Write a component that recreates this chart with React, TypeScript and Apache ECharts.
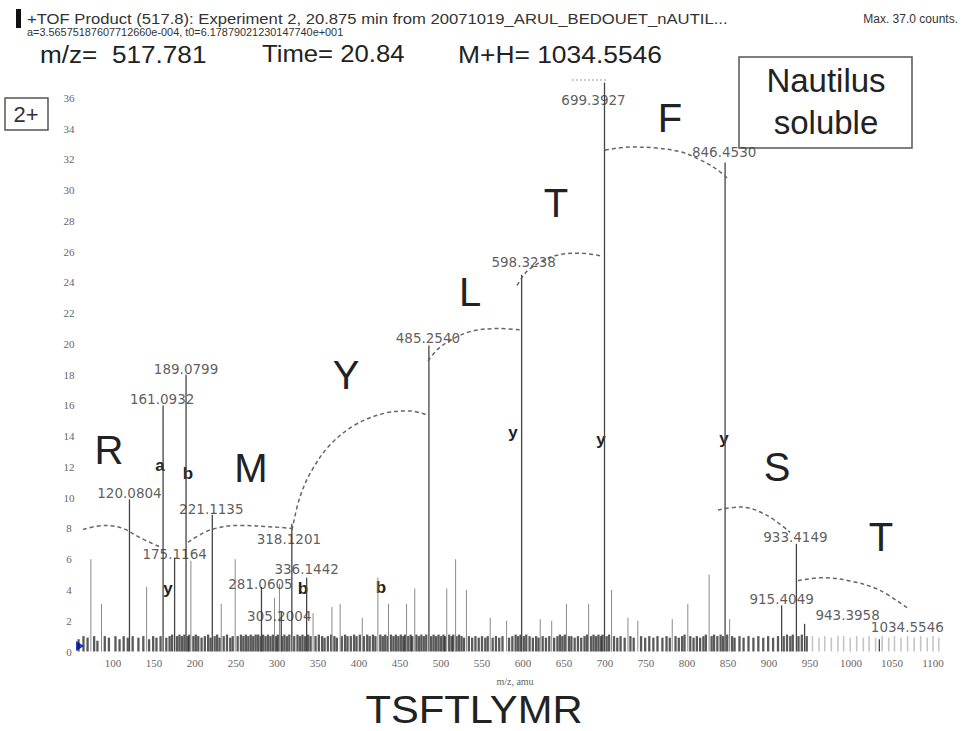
import React, { useEffect, useRef } from "react";
import * as echarts from "echarts";

// Labelled fragment peaks (m/z, intensity in counts)
const labeledMz = [120.0804, 161.0932, 175.1164, 189.0799, 221.1135, 281.0605, 305.2004, 318.1201, 336.1442, 485.254, 598.3238, 699.3927, 846.453, 915.4049, 933.4149, 943.3958, 1034.5546];
const labeledIntensity = [9.9, 16.0, 6.1, 18.0, 8.9, 4.2, 2.6, 8.3, 4.8, 19.9, 24.5, 37.0, 31.8, 3.0, 7.0, 1.8, 0.8];
// label placement relative to the peak top (pixels)
const labelOffsets = [[0, -6], [-1, -6], [0, -4], [0, -6], [-1, -6], [-1, -3], [-2, 4], [-3, 15], [0, -9], [-1, -7], [2, -13], [-11, 18], [-1, -10], [0, -6], [-1, -7], [43, -9], [28, -12]];

// Unlabelled minor peaks [m/z, intensity]
const minorPeaks = [[73, 6.0], [86, 3.1], [141, 4.2], [195, 5.9], [232, 3.1], [249, 6.0], [297, 3.5], [303, 4.4], [344, 2.5], [367, 2.9], [377, 3.1], [404, 2.2], [423, 4.8], [436, 3.1], [458, 3.1], [468, 4.1], [507, 4.1], [517.8, 6.0], [531, 4.0], [560, 2.2], [580, 2.0], [621, 2.1], [635, 2.0], [653, 3.1], [680, 3.1], [708, 4.0], [728, 2.2], [740, 2.0], [782, 2.1], [801, 3.1], [827, 5.0], [852, 2.1]];

// Baseline noise peaks [m/z, intensity]
const noisePeaks = [[58, 0.8], [64, 1.0], [69, 0.9], [77, 1.0], [81, 0.7], [90, 1.0], [95, 0.9], [103, 1.0], [108, 0.8], [113, 1.0], [118, 0.9], [124, 1.0], [131, 0.9], [137, 1.0], [144, 0.8], [149, 1.0], [153, 0.9], [158, 1.0], [165, 0.9], [169, 1.0], [172, 1.1], [178, 1.0], [181, 1.1], [184, 1.0], [187, 1.1], [191, 1.0], [193, 1.1], [198, 1.0], [201, 1.1], [204, 1.0], [208, 0.9], [212, 1.0], [216, 1.1], [219, 0.9], [224, 1.0], [227, 1.1], [230, 0.9], [235, 1.0], [239, 1.1], [243, 0.9], [246, 1.0], [252, 1.0], [256, 1.1], [259, 1.0], [262, 1.1], [265, 1.0], [268, 1.1], [271, 1.0], [274, 1.1], [277, 1.1], [280, 1.0], [283, 1.1], [286, 1.0], [289, 1.1], [292, 1.0], [295, 1.1], [299, 1.0], [301, 1.1], [306, 1.0], [309, 1.1], [312, 1.0], [315, 1.1], [321, 1.0], [325, 1.1], [328, 1.0], [331, 1.1], [334, 1.0], [338, 1.1], [341, 1.0], [347, 1.0], [351, 1.1], [355, 1.0], [358, 0.9], [362, 1.0], [366, 1.1], [370, 1.0], [373, 0.9], [379, 1.0], [383, 1.1], [386, 1.0], [390, 1.0], [394, 1.1], [397, 1.0], [401, 1.1], [406, 1.0], [410, 1.1], [413, 1.0], [417, 1.1], [420, 1.0], [426, 1.1], [429, 1.0], [432, 1.1], [435, 1.0], [439, 1.1], [442, 1.0], [445, 1.1], [448, 1.0], [451, 1.1], [454, 1.0], [456, 1.1], [460, 1.0], [463, 1.1], [465, 1.0], [470, 1.1], [473, 1.0], [476, 1.1], [479, 1.0], [482, 1.1], [488, 1.0], [491, 1.1], [494, 1.0], [497, 1.1], [500, 1.0], [503, 1.1], [505, 1.0], [510, 1.1], [513, 1.0], [515, 1.1], [519, 1.0], [522, 1.1], [525, 1.0], [528, 0.9], [534, 1.0], [538, 0.9], [542, 1.0], [546, 0.9], [550, 1.0], [554, 0.9], [557, 1.0], [563, 0.9], [567, 1.0], [571, 0.9], [575, 1.0], [583, 0.9], [587, 1.0], [591, 1.1], [594, 1.0], [597, 1.1], [601, 1.0], [604, 1.1], [608, 1.0], [612, 0.9], [616, 1.0], [619, 0.9], [624, 1.0], [628, 0.9], [632, 1.0], [638, 0.9], [642, 1.0], [645, 1.1], [648, 1.0], [651, 1.1], [656, 1.0], [659, 1.0], [663, 0.9], [667, 1.0], [671, 0.9], [675, 1.0], [678, 1.1], [683, 1.0], [686, 1.1], [689, 1.0], [692, 1.1], [695, 1.0], [697, 1.1], [702, 1.0], [705, 1.1], [711, 1.0], [715, 0.9], [719, 1.0], [724, 0.9], [731, 1.0], [735, 0.9], [744, 1.0], [749, 0.9], [754, 1.0], [759, 0.9], [764, 1.0], [770, 0.9], [775, 1.0], [779, 0.9], [786, 1.0], [790, 0.9], [794, 1.0], [797, 1.1], [804, 1.0], [808, 0.9], [812, 1.0], [816, 0.9], [820, 1.0], [823, 1.1], [830, 1.0], [833, 1.1], [837, 1.0], [841, 1.1], [844, 1.0], [849, 1.1], [855, 1.0], [858, 0.9], [864, 1.0], [869, 0.9], [875, 1.0], [881, 0.9], [887, 1.0], [893, 0.9], [899, 1.0], [905, 0.9], [911, 1.0], [918, 1.0], [922, 1.1], [926, 1.0], [929, 1.1], [936, 1.0], [940, 1.1], [946, 1.0]];
const faintNoisePeaks = [[953, 1.0], [961, 0.9], [968, 1.0], [976, 0.9], [984, 1.0], [991, 1.0], [999, 0.9], [1007, 1.0], [1015, 0.9], [1022, 1.0], [1030, 0.9], [1038, 1.0], [1046, 0.9], [1053, 1.0], [1061, 0.9], [1069, 1.0], [1077, 0.9], [1085, 1.0], [1093, 0.9], [1100, 1.0], [1107, 0.9]];

// Sequence arcs (dashed) between fragment ions [m/z, counts]
const arcR = [[63.4, 7.94], [90.2, 8.2], [112.2, 8.0], [132.9, 7.4], [157.3, 6.8]];
const arcM = [[191.5, 7.1], [218.3, 7.9], [254.9, 8.2], [295.1, 8.1], [318.3, 8.0]];
const arcY = [[318.3, 7.9], [328.0, 10.05], [342.7, 11.8], [364.6, 13.43], [395.1, 14.73], [431.7, 15.5], [462.2, 15.64], [482.9, 15.38]];
const arcL = [[484.1, 18.9], [495, 19.6], [507.3, 20.1], [535.4, 20.8], [572, 21.0], [598.8, 20.9]];
const arcT = [[592.7, 23.8], [600, 24.4], [608.5, 24.9], [636.6, 25.7], [669.5, 25.9], [697.6, 25.7]];
const arcF = [[700, 32.6], [730, 32.8], [760, 32.75], [791.5, 32.5], [815, 32.0], [835, 31.4], [848.8, 30.8]];
const arcS = [[837.8, 9.2], [864.6, 9.4], [897.6, 8.85], [925.6, 7.75]];
const arcT2 = [[935.4, 4.6], [965.9, 4.8], [1002.4, 4.55], [1035.4, 3.97], [1069.5, 2.8]];

const residueLetters = ["R", "M", "Y", "L", "T", "F", "S", "T"];
const ionLetters = ["a", "b", "y", "b", "b", "y", "y", "y"];

const X_MIN = 50, X_MAX = 1120, Y_MIN = 0, Y_MAX = 38;

function stickSeries(data: number[][], color: string, width: number) {
  return {
    type: "custom",
    data,
    encode: { x: 0, y: 1 },
    silent: true,
    renderItem: (_p: any, api: any) => {
      const x = api.value(0);
      const h = api.value(1);
      const a = api.coord([x, 0]);
      const b = api.coord([x, h]);
      return { type: "line", shape: { x1: a[0], y1: a[1], x2: b[0], y2: b[1] }, style: { stroke: color, lineWidth: width } };
    },
  };
}

function arcSeries(data: number[][]) {
  return {
    type: "line",
    data,
    smooth: 0.35,
    symbol: "none",
    silent: true,
    lineStyle: { color: "#666", width: 1.5, type: [4, 3] },
  };
}

export default function App() {
  const ref = useRef<HTMLDivElement>(null);
  useEffect(() => {
    if (!ref.current) return;
    const chart = echarts.init(ref.current, null, { renderer: "svg" });
    const residuePos = [[109, 450], [251, 468], [346, 375], [470, 292], [556, 203], [670, 118], [777, 467], [881, 537]];
    const ionPos = [[160, 465], [188, 473], [168, 588], [303, 588], [381, 587], [513, 432], [601, 439], [724, 438]];
    const sans = "Liberation Sans, Arial, sans-serif";
    const mid = { textVerticalAlign: "middle", verticalAlign: "middle" };
    const ctr = { textAlign: "center", align: "center", textVerticalAlign: "middle", verticalAlign: "middle" };
    const graphic: any[] = [
      { type: "rect", shape: { x: 16, y: 9, width: 5, height: 19 }, style: { fill: "#111" } },
      { type: "text", x: 27, y: 19, scaleX: 1.19, style: { text: "+TOF Product (517.8): Experiment 2, 20.875 min from 20071019_ARUL_BEDOUET_nAUTIL...", font: "14px " + sans, fill: "#333", ...mid } },
      { type: "text", x: 27, y: 32, scaleX: 0.99, style: { text: "a=3.56575187607712660e-004, t0=6.17879021230147740e+001", font: "11px " + sans, fill: "#333", ...mid } },
      { type: "text", x: 958, y: 19, style: { text: "Max. 37.0 counts.", font: "12px " + sans, fill: "#333", textAlign: "right", align: "right", ...mid } },
      { type: "text", x: 40, y: 54, scaleX: 1.09, style: { text: "m/z=  517.781", font: "24px " + sans, fill: "#222", ...mid } },
      { type: "text", x: 262, y: 54, scaleX: 1.07, style: { text: "Time= 20.84", font: "24px " + sans, fill: "#222", ...mid } },
      { type: "text", x: 458, y: 54, scaleX: 1.1, style: { text: "M+H= 1034.5546", font: "24px " + sans, fill: "#222", ...mid } },
      { type: "rect", shape: { x: 739, y: 57, width: 173, height: 91 }, style: { fill: "#fff", stroke: "#555", lineWidth: 1.5 } },
      { type: "text", x: 826, y: 80, style: { text: "Nautilus", font: "33px " + sans, fill: "#222", ...ctr } },
      { type: "text", x: 826, y: 122, style: { text: "soluble", font: "33px " + sans, fill: "#222", ...ctr } },
      { type: "rect", shape: { x: 5, y: 98, width: 43, height: 32 }, style: { fill: "#fff", stroke: "#555", lineWidth: 1.5 } },
      { type: "text", x: 26, y: 114, style: { text: "2+", font: "22px " + sans, fill: "#333", ...ctr } },
      { type: "line", shape: { x1: 572, y1: 80, x2: 607, y2: 80 }, style: { stroke: "#999", lineWidth: 1, lineDash: [2, 2] } },
      { type: "text", x: 515, y: 681, style: { text: "m/z, amu", font: "10px Liberation Serif, serif", fill: "#666", ...ctr } },
      { type: "polygon", shape: { points: [[76, 641], [84, 646], [76, 651]] }, style: { fill: "#1a3be0" } },
      { type: "text", x: 474, y: 709, scaleX: 1.07, style: { text: "TSFTLYMR", font: "39px " + sans, fill: "#222", ...ctr } },
    ];
    residueLetters.forEach((t, i) => {
      graphic.push({ type: "text", x: residuePos[i][0], y: residuePos[i][1], style: { text: t, font: "40px " + sans, fill: "#222", ...ctr } });
    });
    ionLetters.forEach((t, i) => {
      graphic.push({ type: "text", x: ionPos[i][0], y: ionPos[i][1], style: { text: t, font: "bold 17px " + sans, fill: "#222", ...ctr } });
    });

    const labelData = labeledMz.map((mz, i) => ({
      value: [mz, labeledIntensity[i]],
      label: { offset: labelOffsets[i] },
    }));

    chart.setOption({
      animation: false,
      backgroundColor: "#fff",
      grid: { left: 72, right: 14.6, top: 67.1, bottom: 79.5, containLabel: false },
      xAxis: {
        type: "value", min: X_MIN, max: X_MAX, interval: 50,
        axisLine: { show: false }, axisTick: { show: false }, splitLine: { show: false },
        axisLabel: { showMinLabel: false, showMaxLabel: false, margin: 6, fontSize: 11, fontFamily: "Liberation Serif, serif", color: "#666", formatter: (v: number) => String(v) },
      },
      yAxis: {
        type: "value", min: Y_MIN, max: Y_MAX, interval: 2,
        axisLine: { show: false }, axisTick: { show: false }, splitLine: { show: false },
        axisLabel: { showMaxLabel: false, align: "center", margin: 3, fontSize: 11, fontFamily: "Liberation Serif, serif", color: "#666" },
      },
      series: [
        stickSeries(faintNoisePeaks, "rgba(140,140,140,0.5)", 1.6),
        stickSeries(noisePeaks, "rgba(20,20,20,0.7)", 2.3),
        stickSeries(minorPeaks, "#8a8a8a", 1),
        stickSeries(labeledMz.map((m, i) => [m, labeledIntensity[i]]), "#444", 1.3),
        arcSeries(arcR), arcSeries(arcM), arcSeries(arcY), arcSeries(arcL),
        arcSeries(arcT), arcSeries(arcF), arcSeries(arcS), arcSeries(arcT2),
        {
          type: "scatter",
          data: labelData,
          symbolSize: 0,
          silent: true,
          label: {
            show: true,
            position: "inside",
            formatter: (p: any) => labeledMz[p.dataIndex].toFixed(4),
            fontSize: 13.5,
            fontFamily: "DejaVu Sans, sans-serif",
            color: "#333",
          },
        },
      ],
      graphic,
    });
    return () => chart.dispose();
  }, []);
  return <div ref={ref} style={{ position: "fixed", left: 0, top: 0, width: 964, height: 731, background: "#fff" }} />;
}
